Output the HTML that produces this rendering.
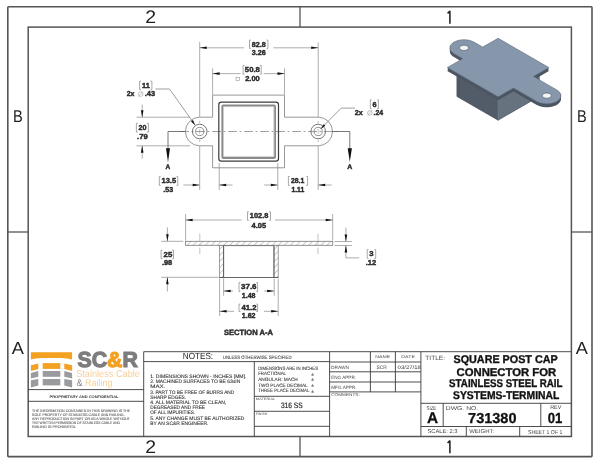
<!DOCTYPE html>
<html><head><meta charset="utf-8"><title>Square Post Cap Connector - Drawing 731380</title><style>
html,body{margin:0;padding:0;background:#fff;}
svg{display:block;will-change:transform;}
text{font-family:"Liberation Sans",sans-serif;text-rendering:geometricPrecision;}
</style></head><body>
<svg width="600" height="464" viewBox="0 0 600 464">
<defs><pattern id="hatch" width="4.3" height="4.3" patternUnits="userSpaceOnUse" patternTransform="rotate(45)"><rect width="4.3" height="4.3" fill="#fff"/><line x1="0" y1="0" x2="0" y2="4.3" stroke="#9a9a9a" stroke-width="1.0"/></pattern></defs>
<rect width="600" height="464" fill="#fff"/>
<rect x="7.8" y="6.8" width="584.2" height="449.8" fill="none" stroke="#555" stroke-width="1.6" rx="0.8"/>
<rect x="28.2" y="27.1" width="543.2" height="409.4" fill="none" stroke="#555" stroke-width="1.5"/>
<line x1="300.00" y1="6.80" x2="300.00" y2="27.10" stroke="#555" stroke-width="1.3" />
<line x1="300.00" y1="436.50" x2="300.00" y2="456.60" stroke="#555" stroke-width="1.3" />
<line x1="7.80" y1="232.00" x2="28.20" y2="232.00" stroke="#555" stroke-width="1.3" />
<line x1="571.40" y1="232.00" x2="592.00" y2="232.00" stroke="#555" stroke-width="1.3" />
<text x="145.31" y="22.51" font-size="18.20" fill="#222" textLength="10.82" lengthAdjust="spacingAndGlyphs" >2</text>
<text x="145.15" y="453.22" font-size="18.20" fill="#222" textLength="10.83" lengthAdjust="spacingAndGlyphs" >2</text>
<path d="M449.9,10.8 V23.7 M449.9,11.0 L447.6,13.4" fill="none" stroke="#222" stroke-width="1.55"/>
<path d="M449.9,440.4 V453.3 M449.9,440.6 L447.6,443.0" fill="none" stroke="#222" stroke-width="1.55"/>
<text x="13.08" y="121.70" font-size="17.10" fill="#222" textLength="9.75" lengthAdjust="spacingAndGlyphs" >B</text>
<text x="11.85" y="354.40" font-size="17.30" fill="#222" textLength="12.14" lengthAdjust="spacingAndGlyphs" >A</text>
<text x="577.02" y="121.70" font-size="17.10" fill="#222" textLength="9.71" lengthAdjust="spacingAndGlyphs" >B</text>
<text x="575.83" y="354.41" font-size="17.30" fill="#222" textLength="12.10" lengthAdjust="spacingAndGlyphs" >A</text>
<line x1="143.70" y1="351.70" x2="571.40" y2="351.70" stroke="#3a3a3a" stroke-width="0.9" />
<line x1="143.70" y1="351.70" x2="143.70" y2="436.50" stroke="#3a3a3a" stroke-width="0.9" />
<line x1="28.20" y1="389.60" x2="143.70" y2="389.60" stroke="#3a3a3a" stroke-width="0.9" />
<line x1="28.20" y1="401.30" x2="143.70" y2="401.30" stroke="#3a3a3a" stroke-width="0.9" />
<line x1="143.70" y1="361.60" x2="329.60" y2="361.60" stroke="#3a3a3a" stroke-width="0.9" />
<line x1="254.30" y1="361.60" x2="254.30" y2="436.50" stroke="#3a3a3a" stroke-width="0.9" />
<line x1="254.30" y1="396.30" x2="329.60" y2="396.30" stroke="#3a3a3a" stroke-width="0.9" />
<line x1="254.30" y1="411.30" x2="329.60" y2="411.30" stroke="#3a3a3a" stroke-width="0.9" />
<line x1="254.30" y1="426.30" x2="329.60" y2="426.30" stroke="#3a3a3a" stroke-width="0.9" />
<line x1="329.60" y1="351.70" x2="329.60" y2="436.50" stroke="#3a3a3a" stroke-width="0.9" />
<line x1="329.60" y1="362.00" x2="420.90" y2="362.00" stroke="#3a3a3a" stroke-width="0.9" />
<line x1="329.60" y1="371.80" x2="420.90" y2="371.80" stroke="#3a3a3a" stroke-width="0.9" />
<line x1="329.60" y1="382.00" x2="420.90" y2="382.00" stroke="#3a3a3a" stroke-width="0.9" />
<line x1="329.60" y1="391.90" x2="420.90" y2="391.90" stroke="#3a3a3a" stroke-width="0.9" />
<line x1="370.40" y1="351.70" x2="370.40" y2="391.90" stroke="#3a3a3a" stroke-width="0.9" />
<line x1="395.40" y1="351.70" x2="395.40" y2="391.90" stroke="#3a3a3a" stroke-width="0.9" />
<line x1="420.90" y1="351.70" x2="420.90" y2="436.50" stroke="#3a3a3a" stroke-width="0.9" />
<line x1="420.90" y1="403.30" x2="571.40" y2="403.30" stroke="#3a3a3a" stroke-width="0.9" />
<line x1="420.90" y1="426.50" x2="571.40" y2="426.50" stroke="#3a3a3a" stroke-width="0.9" />
<line x1="443.20" y1="403.30" x2="443.20" y2="426.50" stroke="#3a3a3a" stroke-width="0.9" />
<line x1="540.80" y1="403.30" x2="540.80" y2="426.50" stroke="#3a3a3a" stroke-width="0.9" />
<line x1="466.30" y1="426.50" x2="466.30" y2="436.50" stroke="#3a3a3a" stroke-width="0.9" />
<line x1="519.70" y1="426.50" x2="519.70" y2="436.50" stroke="#3a3a3a" stroke-width="0.9" />
<text x="182.74" y="359.33" font-size="8.91" fill="#222" textLength="30.40" lengthAdjust="spacingAndGlyphs" >NOTES:</text>
<text x="222.80" y="358.70" font-size="4.80" fill="#4a4a4a" stroke="#4a4a4a" stroke-width="0.1" textLength="68.80" lengthAdjust="spacingAndGlyphs" >UNLESS OTHERWISE SPECIFIED</text>
<text x="150.24" y="377.95" font-size="5.00" fill="#3a3a3a" stroke="#3a3a3a" stroke-width="0.12" textLength="96.15" lengthAdjust="spacingAndGlyphs" >1. DIMENSIONS SHOWN - INCHES [MM].</text>
<text x="150.24" y="383.15" font-size="5.00" fill="#3a3a3a" stroke="#3a3a3a" stroke-width="0.12" textLength="90.05" lengthAdjust="spacingAndGlyphs" >2. MACHINED SURFACES TO BE 63uIN</text>
<text x="150.24" y="388.35" font-size="5.00" fill="#3a3a3a" stroke="#3a3a3a" stroke-width="0.12" textLength="15.23" lengthAdjust="spacingAndGlyphs" >MAX.</text>
<text x="150.24" y="393.55" font-size="5.00" fill="#3a3a3a" stroke="#3a3a3a" stroke-width="0.12" textLength="84.00" lengthAdjust="spacingAndGlyphs" >3. PART TO BE FREE OF BURRS AND</text>
<text x="150.24" y="398.75" font-size="5.00" fill="#3a3a3a" stroke="#3a3a3a" stroke-width="0.12" textLength="35.89" lengthAdjust="spacingAndGlyphs" >SHARP EDGES.</text>
<text x="150.24" y="403.95" font-size="5.00" fill="#3a3a3a" stroke="#3a3a3a" stroke-width="0.12" textLength="76.08" lengthAdjust="spacingAndGlyphs" >4. ALL MATERIAL TO BE CLEAN,</text>
<text x="150.24" y="409.15" font-size="5.00" fill="#3a3a3a" stroke="#3a3a3a" stroke-width="0.12" textLength="54.79" lengthAdjust="spacingAndGlyphs" >DEGREASED AND FREE</text>
<text x="150.24" y="414.35" font-size="5.00" fill="#3a3a3a" stroke="#3a3a3a" stroke-width="0.12" textLength="45.01" lengthAdjust="spacingAndGlyphs" >OF ALL IMPURITIES.</text>
<text x="150.24" y="419.55" font-size="5.00" fill="#3a3a3a" stroke="#3a3a3a" stroke-width="0.12" textLength="94.04" lengthAdjust="spacingAndGlyphs" >5. ANY CHANGE MUST BE AUTHORIZED</text>
<text x="150.24" y="424.75" font-size="5.00" fill="#3a3a3a" stroke="#3a3a3a" stroke-width="0.12" textLength="58.22" lengthAdjust="spacingAndGlyphs" >BY AN SC&amp;R ENGINEER.</text>
<text x="258.17" y="369.80" font-size="4.80" fill="#4a4a4a" stroke="#4a4a4a" stroke-width="0.12" textLength="59.84" lengthAdjust="spacingAndGlyphs" >DIMENSIONS ARE IN INCHES</text>
<text x="258.17" y="375.30" font-size="4.80" fill="#4a4a4a" stroke="#4a4a4a" stroke-width="0.12" textLength="27.87" lengthAdjust="spacingAndGlyphs" >FRACTIONAL</text>
<text x="258.17" y="380.70" font-size="4.80" fill="#4a4a4a" stroke="#4a4a4a" stroke-width="0.12" textLength="39.62" lengthAdjust="spacingAndGlyphs" >ANGULAR: MACH</text>
<text x="258.17" y="386.70" font-size="4.80" fill="#4a4a4a" stroke="#4a4a4a" stroke-width="0.12" textLength="49.54" lengthAdjust="spacingAndGlyphs" >TWO PLACE DECIMAL</text>
<text x="258.17" y="392.20" font-size="4.80" fill="#4a4a4a" stroke="#4a4a4a" stroke-width="0.12" textLength="51.26" lengthAdjust="spacingAndGlyphs" >THREE PLACE DECIMAL</text>
<text x="312.6" y="375.6" font-size="5" fill="#4a4a4a" stroke="#4a4a4a" stroke-width="0.1" text-anchor="middle">±</text>
<text x="312.6" y="381.0" font-size="5" fill="#4a4a4a" stroke="#4a4a4a" stroke-width="0.1" text-anchor="middle">±</text>
<text x="312.6" y="387.0" font-size="5" fill="#4a4a4a" stroke="#4a4a4a" stroke-width="0.1" text-anchor="middle">±</text>
<text x="312.6" y="392.5" font-size="5" fill="#4a4a4a" stroke="#4a4a4a" stroke-width="0.1" text-anchor="middle">±</text>
<text x="255.74" y="399.74" font-size="3.30" fill="#4a4a4a" textLength="19.51" lengthAdjust="spacingAndGlyphs" >MATERIAL</text>
<text x="280.92" y="407.99" font-size="7.88" fill="#2a2a2a" stroke="#2a2a2a" stroke-width="0.2" textLength="21.79" lengthAdjust="spacingAndGlyphs" >316 SS</text>
<text x="255.68" y="414.98" font-size="3.30" fill="#4a4a4a" textLength="11.67" lengthAdjust="spacingAndGlyphs" >FINISH</text>
<text x="375.32" y="358.35" font-size="4.20" fill="#4a4a4a" textLength="14.88" lengthAdjust="spacingAndGlyphs" >NAME</text>
<text x="401.29" y="358.26" font-size="4.20" fill="#4a4a4a" textLength="13.77" lengthAdjust="spacingAndGlyphs" >DATE</text>
<text x="331.04" y="368.90" font-size="4.60" fill="#4a4a4a" textLength="18.01" lengthAdjust="spacingAndGlyphs" >DRAWN</text>
<text x="376.51" y="368.86" font-size="5.15" fill="#3a3a3a" textLength="10.36" lengthAdjust="spacingAndGlyphs" >SCR</text>
<text x="397.63" y="368.75" font-size="5.14" fill="#3a3a3a" textLength="23.28" lengthAdjust="spacingAndGlyphs" >03/27/18</text>
<text x="331.16" y="379.06" font-size="4.60" fill="#4a4a4a" textLength="24.92" lengthAdjust="spacingAndGlyphs" >ENG APPR.</text>
<text x="331.24" y="389.19" font-size="4.60" fill="#4a4a4a" textLength="25.38" lengthAdjust="spacingAndGlyphs" >MFG APPR.</text>
<text x="331.19" y="396.25" font-size="4.20" fill="#4a4a4a" textLength="28.55" lengthAdjust="spacingAndGlyphs" >COMMENTS:</text>
<text x="425.33" y="359.77" font-size="6.12" fill="#4a4a4a" textLength="19.67" lengthAdjust="spacingAndGlyphs" >TITLE:</text>
<text x="453.52" y="363.29" font-size="11.20" font-weight="bold" fill="#111" stroke="#111" stroke-width="0.35" textLength="104.14" lengthAdjust="spacingAndGlyphs" >SQUARE POST CAP</text>
<text x="456.51" y="375.53" font-size="11.20" font-weight="bold" fill="#111" stroke="#111" stroke-width="0.35" textLength="99.75" lengthAdjust="spacingAndGlyphs" >CONNECTOR FOR</text>
<text x="449.11" y="387.40" font-size="11.20" font-weight="bold" fill="#111" stroke="#111" stroke-width="0.35" textLength="113.35" lengthAdjust="spacingAndGlyphs" >STAINLESS STEEL RAIL</text>
<text x="453.07" y="399.47" font-size="11.20" font-weight="bold" fill="#111" stroke="#111" stroke-width="0.35" textLength="106.25" lengthAdjust="spacingAndGlyphs" >SYSTEMS-TERMINAL</text>
<text x="426.55" y="409.72" font-size="5.60" fill="#4a4a4a" textLength="9.74" lengthAdjust="spacingAndGlyphs" >SIZE</text>
<text x="426.94" y="423.30" font-size="15.57" font-weight="bold" fill="#111" stroke="#111" stroke-width="0.3" textLength="11.13" lengthAdjust="spacingAndGlyphs" >A</text>
<text x="445.87" y="409.70" font-size="5.60" fill="#4a4a4a" textLength="32.30" lengthAdjust="spacingAndGlyphs" >DWG. NO.</text>
<text x="468.10" y="422.83" font-size="14.43" font-weight="bold" fill="#111" stroke="#111" stroke-width="0.3" textLength="48.38" lengthAdjust="spacingAndGlyphs" >731380</text>
<text x="550.17" y="409.29" font-size="5.60" fill="#4a4a4a" textLength="11.18" lengthAdjust="spacingAndGlyphs" >REV</text>
<text x="547.64" y="422.97" font-size="14.64" font-weight="bold" fill="#111" stroke="#111" stroke-width="0.3" textLength="14.61" lengthAdjust="spacingAndGlyphs" >01</text>
<text x="427.41" y="433.26" font-size="5.60" fill="#4a4a4a" textLength="30.16" lengthAdjust="spacingAndGlyphs" >SCALE: 2:3</text>
<text x="469.16" y="433.26" font-size="5.60" fill="#4a4a4a" textLength="25.01" lengthAdjust="spacingAndGlyphs" >WEIGHT:</text>
<text x="528.00" y="433.70" font-size="5.60" fill="#4a4a4a" textLength="34.35" lengthAdjust="spacingAndGlyphs" >SHEET 1 OF 1</text>
<path d="M30.9,352.3 H72.1 V359.6 Q68,357.9 61,357.9 H42 Q35,357.9 30.9,359.6 Z" fill="#f4a021"/>
<rect x="42.7" y="363.1" width="17.6" height="5.8" fill="#f4a021"/>
<rect x="42.7" y="371" width="17.6" height="5.8" fill="#9a9b9f"/>
<rect x="42.7" y="379" width="17.6" height="6.4" fill="#9a9b9f"/>
<polygon points="30.9,365.3 38.3,363.6 38.3,368.9 30.9,371.1" fill="#f4a021"/>
<polygon points="30.9,372.9 38.3,370.9 38.3,376.8 30.9,378.6" fill="#9a9b9f"/>
<polygon points="30.9,380.3 38.3,379 38.3,385.5 30.9,387.4" fill="#9a9b9f"/>
<polygon points="64.3,363.6 72.1,365.3 72.1,371.1 64.3,368.9" fill="#f4a021"/>
<polygon points="64.3,370.9 72.1,372.9 72.1,378.6 64.3,376.8" fill="#9a9b9f"/>
<polygon points="64.3,379 72.1,380.3 72.1,387.4 64.3,385.5" fill="#9a9b9f"/>
<text x="77.48" y="366.77" font-size="21.69" font-weight="bold" fill="#7d7d7d" stroke="#7d7d7d" stroke-width="1.2" textLength="60.35" lengthAdjust="spacingAndGlyphs" >SC<tspan fill="#f4a021" stroke="#f4a021">&amp;</tspan>R</text>
<text x="76.20" y="377.26" font-size="9.90" fill="#f8cf98" textLength="63.70" lengthAdjust="spacingAndGlyphs" >Stainless Cable</text>
<text x="76.54" y="386.49" font-size="9.60" fill="#f8cf98" textLength="35.86" lengthAdjust="spacingAndGlyphs" ><tspan fill="#7d7d7d">&amp;</tspan> Railing</text>
<text x="49.54" y="397.95" font-size="3.70" font-weight="bold" fill="#333" textLength="69.03" lengthAdjust="spacingAndGlyphs" >PROPRIETARY AND CONFIDENTIAL</text>
<text x="32.09" y="412.22" font-size="3.70" fill="#555" stroke="#555" stroke-width="0.08" textLength="98.01" lengthAdjust="spacingAndGlyphs" >THE INFORMATION CONTAINED IN THIS DRAWING IS THE</text>
<text x="32.09" y="416.12" font-size="3.70" fill="#555" stroke="#555" stroke-width="0.08" textLength="92.33" lengthAdjust="spacingAndGlyphs" >SOLE PROPERTY OF STAINLESS CABLE AND RAILING.</text>
<text x="32.09" y="420.02" font-size="3.70" fill="#555" stroke="#555" stroke-width="0.08" textLength="97.95" lengthAdjust="spacingAndGlyphs" >ANY REPRODUCTION IN PART OR AS A WHOLE WITHOUT</text>
<text x="32.09" y="423.92" font-size="3.70" fill="#555" stroke="#555" stroke-width="0.08" textLength="87.83" lengthAdjust="spacingAndGlyphs" >THE WRITTEN PERMISSION OF STAINLESS CABLE AND</text>
<text x="32.09" y="427.82" font-size="3.70" fill="#555" stroke="#555" stroke-width="0.08" textLength="44.13" lengthAdjust="spacingAndGlyphs" >RAILING IS PROHIBITED.</text>
<line x1="180" y1="131.5" x2="338" y2="131.5" stroke="#777" stroke-width="0.7" stroke-dasharray="9,2.5,2,2.5"/>
<path d="M212.6,117.2 V95.1 H284.5 V117.2 H318.2 A14.3,14.3 0 0 1 318.2,145.8 H284.5 V167.8 H212.6 V145.8 H199.7 A14.3,14.3 0 0 1 199.7,117.2 Z" fill="none" stroke="#8c8c8c" stroke-width="0.9"/>
<circle cx="199.7" cy="131.5" r="7.3" fill="none" stroke="#666" stroke-width="0.9"/>
<circle cx="199.7" cy="131.5" r="4.1" fill="none" stroke="#777" stroke-width="0.8"/>
<line x1="199.70" y1="129.00" x2="199.70" y2="134.00" stroke="#888" stroke-width="0.5" />
<line x1="199.70" y1="121.00" x2="199.70" y2="122.90" stroke="#888" stroke-width="0.6" />
<line x1="199.70" y1="140.10" x2="199.70" y2="142.00" stroke="#888" stroke-width="0.6" />
<circle cx="318.2" cy="131.5" r="7.3" fill="none" stroke="#666" stroke-width="0.9"/>
<circle cx="318.2" cy="131.5" r="4.1" fill="none" stroke="#777" stroke-width="0.8"/>
<line x1="318.20" y1="129.00" x2="318.20" y2="134.00" stroke="#888" stroke-width="0.5" />
<line x1="318.20" y1="121.00" x2="318.20" y2="122.90" stroke="#888" stroke-width="0.6" />
<line x1="318.20" y1="140.10" x2="318.20" y2="142.00" stroke="#888" stroke-width="0.6" />
<rect x="218.8" y="102.2" width="59.7" height="59" rx="2.6" fill="none" stroke="#3d3d3d" stroke-width="1.2"/>
<rect x="222.3" y="105.5" width="52.8" height="52.5" rx="1" fill="none" stroke="#8a8a8a" stroke-width="1.8"/>
<rect x="223.6" y="106.8" width="50.2" height="49.9" fill="none" stroke="#bbb" stroke-width="0.6"/>
<line x1="199.70" y1="41.70" x2="199.70" y2="117.00" stroke="#8a8a8a" stroke-width="0.7" />
<line x1="199.70" y1="146.00" x2="199.70" y2="190.00" stroke="#8a8a8a" stroke-width="0.7" />
<line x1="318.20" y1="42.50" x2="318.20" y2="117.00" stroke="#8a8a8a" stroke-width="0.7" />
<line x1="318.20" y1="146.00" x2="318.20" y2="190.00" stroke="#8a8a8a" stroke-width="0.7" />
<line x1="212.60" y1="68.30" x2="212.60" y2="94.50" stroke="#8a8a8a" stroke-width="0.7" />
<line x1="284.50" y1="68.30" x2="284.50" y2="94.50" stroke="#8a8a8a" stroke-width="0.7" />
<line x1="219.20" y1="163.00" x2="219.20" y2="190.00" stroke="#8a8a8a" stroke-width="0.7" />
<line x1="277.80" y1="163.00" x2="277.80" y2="190.00" stroke="#8a8a8a" stroke-width="0.7" />
<line x1="199.70" y1="47.80" x2="244.00" y2="47.80" stroke="#8a8a8a" stroke-width="0.7" />
<line x1="273.30" y1="47.80" x2="318.20" y2="47.80" stroke="#8a8a8a" stroke-width="0.7" />
<polygon points="199.70,47.80 206.70,46.50 206.70,49.10" fill="#111"/>
<polygon points="318.20,47.80 311.20,49.10 311.20,46.50" fill="#111"/>
<line x1="212.60" y1="73.60" x2="240.50" y2="73.60" stroke="#8a8a8a" stroke-width="0.7" />
<line x1="263.70" y1="73.60" x2="284.50" y2="73.60" stroke="#8a8a8a" stroke-width="0.7" />
<polygon points="212.60,73.60 219.60,72.30 219.60,74.90" fill="#111"/>
<polygon points="284.50,73.60 277.50,74.90 277.50,72.30" fill="#111"/>
<line x1="183.30" y1="185.00" x2="199.70" y2="185.00" stroke="#8a8a8a" stroke-width="0.7" />
<polygon points="199.70,185.00 192.70,186.30 192.70,183.70" fill="#111"/>
<line x1="219.20" y1="185.00" x2="232.50" y2="185.00" stroke="#8a8a8a" stroke-width="0.7" />
<polygon points="219.20,185.00 226.20,183.70 226.20,186.30" fill="#111"/>
<line x1="264.20" y1="185.00" x2="277.80" y2="185.00" stroke="#8a8a8a" stroke-width="0.7" />
<polygon points="277.80,185.00 270.80,186.30 270.80,183.70" fill="#111"/>
<line x1="318.20" y1="185.00" x2="331.70" y2="185.00" stroke="#8a8a8a" stroke-width="0.7" />
<polygon points="318.20,185.00 325.20,183.70 325.20,186.30" fill="#111"/>
<line x1="136.50" y1="117.20" x2="190.00" y2="117.20" stroke="#8a8a8a" stroke-width="0.7" />
<line x1="136.50" y1="145.80" x2="190.00" y2="145.80" stroke="#8a8a8a" stroke-width="0.7" />
<line x1="142.20" y1="104.50" x2="142.20" y2="117.20" stroke="#8a8a8a" stroke-width="0.7" />
<polygon points="142.20,117.20 140.90,110.20 143.50,110.20" fill="#111"/>
<line x1="142.20" y1="145.80" x2="142.20" y2="158.70" stroke="#8a8a8a" stroke-width="0.7" />
<polygon points="142.20,145.80 143.50,152.80 140.90,152.80" fill="#111"/>
<line x1="155.40" y1="89.00" x2="169.50" y2="89.00" stroke="#777" stroke-width="0.7" />
<line x1="169.50" y1="89.00" x2="195.20" y2="125.20" stroke="#777" stroke-width="0.7" />
<polygon points="195.20,125.20 191.04,121.41 192.99,120.02" fill="#111"/>
<line x1="355.00" y1="108.10" x2="341.20" y2="108.10" stroke="#777" stroke-width="0.7" />
<line x1="341.20" y1="108.10" x2="320.60" y2="128.90" stroke="#777" stroke-width="0.7" />
<polygon points="320.60,128.90 323.62,124.15 325.32,125.84" fill="#111"/>
<line x1="168.00" y1="131.50" x2="185.00" y2="131.50" stroke="#555" stroke-width="0.8" />
<line x1="168.00" y1="131.50" x2="168.00" y2="149.00" stroke="#555" stroke-width="0.8" />
<polygon points="168.00,162.20 166.00,148.20 170.00,148.20" fill="#111"/>
<line x1="332.00" y1="131.50" x2="349.80" y2="131.50" stroke="#555" stroke-width="0.8" />
<line x1="349.80" y1="131.50" x2="349.80" y2="149.00" stroke="#555" stroke-width="0.8" />
<polygon points="349.80,161.80 347.70,148.20 351.90,148.20" fill="#111"/>
<text x="165.39" y="169.08" font-size="6.60" font-weight="bold" fill="#2a2a2a" stroke="#2a2a2a" stroke-width="0.42" textLength="4.69" lengthAdjust="spacingAndGlyphs" >A</text>
<text x="347.26" y="168.60" font-size="6.60" font-weight="bold" fill="#2a2a2a" stroke="#2a2a2a" stroke-width="0.42" textLength="5.01" lengthAdjust="spacingAndGlyphs" >A</text>
<path d="M250.9,40.1 H249.5 V48.4 H250.9 M266.5,40.1 H267.9 V48.4 H266.5" fill="none" stroke="#7a7a7a" stroke-width="0.65"/>
<text x="251.84" y="46.67" font-size="7.20" font-weight="bold" fill="#2a2a2a" stroke="#2a2a2a" stroke-width="0.42" textLength="13.94" lengthAdjust="spacingAndGlyphs" >82.8</text>
<text x="251.73" y="54.67" font-size="7.20" font-weight="bold" fill="#2a2a2a" stroke="#2a2a2a" stroke-width="0.42" textLength="13.99" lengthAdjust="spacingAndGlyphs" >3.26</text>
<path d="M244.5,65.4 H243.1 V74.2 H244.5 M259.8,65.4 H261.2 V74.2 H259.8" fill="none" stroke="#7a7a7a" stroke-width="0.65"/>
<text x="244.84" y="72.31" font-size="7.20" font-weight="bold" fill="#2a2a2a" stroke="#2a2a2a" stroke-width="0.42" textLength="15.06" lengthAdjust="spacingAndGlyphs" >50.8</text>
<text x="245.17" y="80.65" font-size="7.20" font-weight="bold" fill="#2a2a2a" stroke="#2a2a2a" stroke-width="0.42" textLength="14.61" lengthAdjust="spacingAndGlyphs" >2.00</text>
<rect x="236" y="77.3" width="3.3" height="3.3" fill="none" stroke="#888" stroke-width="0.55"/>
<path d="M141.0,81.1 H139.6 V89.6 H141.0 M150.5,81.1 H151.9 V89.6 H150.5" fill="none" stroke="#7a7a7a" stroke-width="0.65"/>
<text x="142.05" y="87.73" font-size="7.20" font-weight="bold" fill="#2a2a2a" stroke="#2a2a2a" stroke-width="0.42" textLength="7.75" lengthAdjust="spacingAndGlyphs" >11</text>
<text x="126.67" y="95.83" font-size="7.20" font-weight="bold" fill="#2a2a2a" stroke="#2a2a2a" stroke-width="0.42" textLength="7.78" lengthAdjust="spacingAndGlyphs" >2x</text>
<text x="144.77" y="96.24" font-size="7.20" font-weight="bold" fill="#2a2a2a" stroke="#2a2a2a" stroke-width="0.42" textLength="10.29" lengthAdjust="spacingAndGlyphs" >.43</text>
<circle cx="140.7" cy="94.1" r="2.3" fill="none" stroke="#999" stroke-width="0.6"/><line x1="138.6" y1="96.7" x2="142.8" y2="91.5" stroke="#999" stroke-width="0.5"/>
<path d="M137.8,123.3 H136.4 V132.1 H137.8 M147.0,123.3 H148.4 V132.1 H147.0" fill="none" stroke="#7a7a7a" stroke-width="0.65"/>
<text x="138.47" y="129.65" font-size="7.20" font-weight="bold" fill="#2a2a2a" stroke="#2a2a2a" stroke-width="0.42" textLength="7.94" lengthAdjust="spacingAndGlyphs" >20</text>
<text x="137.04" y="138.74" font-size="7.20" font-weight="bold" fill="#2a2a2a" stroke="#2a2a2a" stroke-width="0.42" textLength="10.60" lengthAdjust="spacingAndGlyphs" >.79</text>
<path d="M371.7,99.9 H370.3 V108.6 H371.7 M377.0,99.9 H378.4 V108.6 H377.0" fill="none" stroke="#7a7a7a" stroke-width="0.65"/>
<text x="372.48" y="106.66" font-size="7.20" font-weight="bold" fill="#2a2a2a" stroke="#2a2a2a" stroke-width="0.42" textLength="4.07" lengthAdjust="spacingAndGlyphs" >6</text>
<text x="354.83" y="115.29" font-size="7.20" font-weight="bold" fill="#2a2a2a" stroke="#2a2a2a" stroke-width="0.42" textLength="7.93" lengthAdjust="spacingAndGlyphs" >2x</text>
<text x="373.51" y="115.40" font-size="7.20" font-weight="bold" fill="#2a2a2a" stroke="#2a2a2a" stroke-width="0.42" textLength="9.61" lengthAdjust="spacingAndGlyphs" >.24</text>
<circle cx="369.8" cy="112.9" r="2.3" fill="none" stroke="#999" stroke-width="0.6"/><line x1="367.7" y1="115.5" x2="371.9" y2="110.3" stroke="#999" stroke-width="0.5"/>
<path d="M160.70000000000002,176.6 H159.3 V185.4 H160.70000000000002 M176.4,176.6 H177.8 V185.4 H176.4" fill="none" stroke="#7a7a7a" stroke-width="0.65"/>
<text x="161.47" y="183.10" font-size="7.20" font-weight="bold" fill="#2a2a2a" stroke="#2a2a2a" stroke-width="0.42" textLength="14.59" lengthAdjust="spacingAndGlyphs" >13.5</text>
<text x="163.20" y="191.71" font-size="7.20" font-weight="bold" fill="#2a2a2a" stroke="#2a2a2a" stroke-width="0.42" textLength="9.91" lengthAdjust="spacingAndGlyphs" >.53</text>
<path d="M289.79999999999995,176.4 H288.4 V185.4 H289.79999999999995 M306.20000000000005,176.4 H307.6 V185.4 H306.20000000000005" fill="none" stroke="#7a7a7a" stroke-width="0.65"/>
<text x="290.92" y="183.02" font-size="7.20" font-weight="bold" fill="#2a2a2a" stroke="#2a2a2a" stroke-width="0.42" textLength="13.36" lengthAdjust="spacingAndGlyphs" >28.1</text>
<text x="291.46" y="191.80" font-size="7.20" font-weight="bold" fill="#2a2a2a" stroke="#2a2a2a" stroke-width="0.42" textLength="12.86" lengthAdjust="spacingAndGlyphs" >1.11</text>
<rect x="185.5" y="241.3" width="147.2" height="4" fill="url(#hatch)" stroke="#777" stroke-width="0.8"/>
<rect x="219.4" y="245.4" width="4.4" height="32.1" fill="url(#hatch)" stroke="#777" stroke-width="0.7"/>
<rect x="273.8" y="245.4" width="4.4" height="32.1" fill="url(#hatch)" stroke="#777" stroke-width="0.7"/>
<line x1="223.50" y1="245.60" x2="223.50" y2="277.50" stroke="#666" stroke-width="1.0" />
<line x1="274.10" y1="245.60" x2="274.10" y2="277.50" stroke="#666" stroke-width="1.0" />
<line x1="219.40" y1="277.50" x2="278.20" y2="277.50" stroke="#555" stroke-width="0.9" />
<line x1="223.90" y1="245.60" x2="273.60" y2="245.60" stroke="#777" stroke-width="0.9" />
<line x1="199.80" y1="233.50" x2="199.80" y2="254.00" stroke="#999" stroke-width="0.6" stroke-dasharray="8,2,2,2"/>
<line x1="318.00" y1="233.50" x2="318.00" y2="254.00" stroke="#999" stroke-width="0.6" stroke-dasharray="8,2,2,2"/>
<line x1="185.60" y1="214.00" x2="185.60" y2="240.50" stroke="#8a8a8a" stroke-width="0.7" />
<line x1="332.70" y1="214.00" x2="332.70" y2="240.50" stroke="#8a8a8a" stroke-width="0.7" />
<line x1="185.60" y1="220.00" x2="241.70" y2="220.00" stroke="#8a8a8a" stroke-width="0.7" />
<line x1="275.00" y1="220.00" x2="332.70" y2="220.00" stroke="#8a8a8a" stroke-width="0.7" />
<polygon points="185.60,220.00 192.60,218.70 192.60,221.30" fill="#111"/>
<polygon points="332.70,220.00 325.70,221.30 325.70,218.70" fill="#111"/>
<path d="M248.9,211.75 H247.5 V220.25 H248.9 M269.1,211.75 H270.5 V220.25 H269.1" fill="none" stroke="#7a7a7a" stroke-width="0.65"/>
<text x="249.81" y="218.10" font-size="7.20" font-weight="bold" fill="#2a2a2a" stroke="#2a2a2a" stroke-width="0.42" textLength="18.55" lengthAdjust="spacingAndGlyphs" >102.8</text>
<text x="251.63" y="227.50" font-size="7.20" font-weight="bold" fill="#2a2a2a" stroke="#2a2a2a" stroke-width="0.42" textLength="14.54" lengthAdjust="spacingAndGlyphs" >4.05</text>
<line x1="161.30" y1="241.30" x2="183.20" y2="241.30" stroke="#8a8a8a" stroke-width="0.7" />
<line x1="161.30" y1="277.30" x2="218.50" y2="277.30" stroke="#8a8a8a" stroke-width="0.7" />
<line x1="167.40" y1="227.30" x2="167.40" y2="241.30" stroke="#8a8a8a" stroke-width="0.7" />
<polygon points="167.40,241.30 166.10,234.30 168.70,234.30" fill="#111"/>
<line x1="167.40" y1="277.30" x2="167.40" y2="291.50" stroke="#8a8a8a" stroke-width="0.7" />
<polygon points="167.40,277.30 168.70,284.30 166.10,284.30" fill="#111"/>
<path d="M162.5,250.1 H161.1 V258.7 H162.5 M172.1,250.1 H173.5 V258.7 H172.1" fill="none" stroke="#7a7a7a" stroke-width="0.65"/>
<text x="163.55" y="256.93" font-size="7.20" font-weight="bold" fill="#2a2a2a" stroke="#2a2a2a" stroke-width="0.42" textLength="8.71" lengthAdjust="spacingAndGlyphs" >25</text>
<text x="161.97" y="265.36" font-size="7.20" font-weight="bold" fill="#2a2a2a" stroke="#2a2a2a" stroke-width="0.42" textLength="10.26" lengthAdjust="spacingAndGlyphs" >.98</text>
<line x1="334.50" y1="241.50" x2="351.80" y2="241.50" stroke="#8a8a8a" stroke-width="0.7" />
<line x1="334.50" y1="245.50" x2="351.80" y2="245.50" stroke="#8a8a8a" stroke-width="0.7" />
<line x1="345.90" y1="227.70" x2="345.90" y2="241.50" stroke="#8a8a8a" stroke-width="0.7" />
<polygon points="345.90,241.50 344.60,234.50 347.20,234.50" fill="#111"/>
<line x1="345.90" y1="245.50" x2="345.90" y2="257.90" stroke="#8a8a8a" stroke-width="0.7" />
<line x1="345.90" y1="257.90" x2="359.30" y2="257.90" stroke="#8a8a8a" stroke-width="0.7" />
<polygon points="345.90,245.50 347.20,252.50 344.60,252.50" fill="#111"/>
<path d="M368.59999999999997,249.6 H367.2 V258.4 H368.59999999999997 M374.3,249.6 H375.7 V258.4 H374.3" fill="none" stroke="#7a7a7a" stroke-width="0.65"/>
<text x="369.15" y="255.92" font-size="7.20" font-weight="bold" fill="#2a2a2a" stroke="#2a2a2a" stroke-width="0.42" textLength="4.28" lengthAdjust="spacingAndGlyphs" >3</text>
<text x="365.66" y="265.25" font-size="7.20" font-weight="bold" fill="#2a2a2a" stroke="#2a2a2a" stroke-width="0.42" textLength="10.44" lengthAdjust="spacingAndGlyphs" >.12</text>
<line x1="223.60" y1="278.50" x2="223.60" y2="295.70" stroke="#8a8a8a" stroke-width="0.7" />
<line x1="274.20" y1="278.50" x2="274.20" y2="295.70" stroke="#8a8a8a" stroke-width="0.7" />
<line x1="219.60" y1="278.50" x2="219.60" y2="316.00" stroke="#8a8a8a" stroke-width="0.7" />
<line x1="278.20" y1="278.50" x2="278.20" y2="316.00" stroke="#8a8a8a" stroke-width="0.7" />
<line x1="223.60" y1="291.00" x2="233.00" y2="291.00" stroke="#8a8a8a" stroke-width="0.7" />
<line x1="264.00" y1="291.00" x2="274.20" y2="291.00" stroke="#8a8a8a" stroke-width="0.7" />
<polygon points="223.60,291.00 230.60,289.70 230.60,292.30" fill="#111"/>
<polygon points="274.20,291.00 267.20,292.30 267.20,289.70" fill="#111"/>
<line x1="219.60" y1="311.30" x2="234.00" y2="311.30" stroke="#8a8a8a" stroke-width="0.7" />
<line x1="264.00" y1="311.30" x2="278.20" y2="311.30" stroke="#8a8a8a" stroke-width="0.7" />
<polygon points="219.60,311.30 226.60,310.00 226.60,312.60" fill="#111"/>
<polygon points="278.20,311.30 271.20,312.60 271.20,310.00" fill="#111"/>
<path d="M240.4,282.6 H239 V291.6 H240.4 M256.20000000000005,282.6 H257.6 V291.6 H256.20000000000005" fill="none" stroke="#7a7a7a" stroke-width="0.65"/>
<text x="241.04" y="289.21" font-size="7.20" font-weight="bold" fill="#2a2a2a" stroke="#2a2a2a" stroke-width="0.42" textLength="15.49" lengthAdjust="spacingAndGlyphs" >37.6</text>
<text x="241.77" y="298.11" font-size="7.20" font-weight="bold" fill="#2a2a2a" stroke="#2a2a2a" stroke-width="0.42" textLength="13.71" lengthAdjust="spacingAndGlyphs" >1.48</text>
<path d="M240.4,304.1 H239 V311.5 H240.4 M256.20000000000005,304.1 H257.6 V311.5 H256.20000000000005" fill="none" stroke="#7a7a7a" stroke-width="0.65"/>
<text x="241.43" y="310.34" font-size="7.20" font-weight="bold" fill="#2a2a2a" stroke="#2a2a2a" stroke-width="0.42" textLength="15.08" lengthAdjust="spacingAndGlyphs" >41.2</text>
<text x="241.74" y="318.44" font-size="7.20" font-weight="bold" fill="#2a2a2a" stroke="#2a2a2a" stroke-width="0.42" textLength="13.81" lengthAdjust="spacingAndGlyphs" >1.62</text>
<text x="223.97" y="335.11" font-size="7.60" font-weight="bold" fill="#2a2a2a" stroke="#2a2a2a" stroke-width="0.42" textLength="48.90" lengthAdjust="spacingAndGlyphs" >SECTION A-A</text>
<polygon points="456.90,71.02 498.10,94.79 498.10,120.20 456.90,96.42" fill="#525c68" stroke="#3e4650" stroke-width="0.6"/>
<polygon points="498.10,94.79 539.30,71.02 539.30,96.42 498.10,120.20" fill="#67727f" stroke="#3e4650" stroke-width="0.6"/>
<line x1="498.10" y1="94.79" x2="498.10" y2="120.20" stroke="#7d8896" stroke-width="0.8" />
<polygon points="458.10,71.71 498.10,94.79 498.10,97.33 458.10,74.25" fill="#5d6773"/>
<line x1="459.10" y1="72.28" x2="459.10" y2="96.54" stroke="#48515c" stroke-width="0.7" />
<polygon points="447.30,71.02 498.10,100.33 513.50,91.44 536.80,104.88 536.80,104.88 538.69,105.80 540.82,106.51 543.14,107.00 545.57,107.24 548.03,107.24 550.46,107.00 552.78,106.51 554.91,105.80 556.80,104.88 558.38,103.80 559.62,102.56 560.46,101.23 560.89,99.83 560.89,98.40 560.46,97.00 559.62,95.67 558.38,94.43 556.80,93.34 556.80,93.34 533.50,79.90 548.90,71.02 498.10,41.70 482.70,50.59 474.00,45.57 474.00,45.57 472.11,44.66 469.98,43.94 467.66,43.46 465.23,43.21 462.77,43.21 460.34,43.46 458.02,43.94 455.89,44.66 454.00,45.57 452.42,46.66 451.18,47.89 450.34,49.23 449.91,50.63 449.91,52.05 450.34,53.45 451.18,54.79 452.42,56.02 454.00,57.11 454.00,57.11 462.70,62.13" fill="#4d5663"/>
<polygon points="447.30,70.15 498.10,99.46 513.50,90.57 536.80,104.02 536.80,104.02 538.69,104.93 540.82,105.64 543.14,106.13 545.57,106.38 548.03,106.38 550.46,106.13 552.78,105.64 554.91,104.93 556.80,104.02 558.38,102.93 559.62,101.70 560.46,100.36 560.89,98.96 560.89,97.54 560.46,96.14 559.62,94.80 558.38,93.57 556.80,92.48 556.80,92.48 533.50,79.03 548.90,70.15 498.10,40.84 482.70,49.72 474.00,44.70 474.00,44.70 472.11,43.79 469.98,43.08 467.66,42.59 465.23,42.34 462.77,42.34 460.34,42.59 458.02,43.08 455.89,43.79 454.00,44.70 452.42,45.79 451.18,47.02 450.34,48.36 449.91,49.76 449.91,51.18 450.34,52.59 451.18,53.92 452.42,55.15 454.00,56.24 454.00,56.24 462.70,61.26" fill="#4d5663"/>
<polygon points="447.30,69.28 498.10,98.59 513.50,89.71 536.80,103.15 536.80,103.15 538.69,104.07 540.82,104.78 543.14,105.26 545.57,105.51 548.03,105.51 550.46,105.26 552.78,104.78 554.91,104.07 556.80,103.15 558.38,102.06 559.62,100.83 560.46,99.49 560.89,98.09 560.89,96.67 560.46,95.27 559.62,93.93 558.38,92.70 556.80,91.61 556.80,91.61 533.50,78.17 548.90,69.28 498.10,39.97 482.70,48.86 474.00,43.84 474.00,43.84 472.11,42.92 469.98,42.21 467.66,41.72 465.23,41.48 462.77,41.48 460.34,41.72 458.02,42.21 455.89,42.92 454.00,43.84 452.42,44.93 451.18,46.16 450.34,47.49 449.91,48.90 449.91,50.32 450.34,51.72 451.18,53.06 452.42,54.29 454.00,55.38 454.00,55.38 462.70,60.40" fill="#4d5663"/>
<polygon points="447.30,68.42 498.10,97.73 513.50,88.84 536.80,102.29 536.80,102.29 538.69,103.20 540.82,103.91 543.14,104.40 545.57,104.65 548.03,104.65 550.46,104.40 552.78,103.91 554.91,103.20 556.80,102.29 558.38,101.20 559.62,99.96 560.46,98.63 560.89,97.23 560.89,95.80 560.46,94.40 559.62,93.07 558.38,91.84 556.80,90.75 556.80,90.75 533.50,77.30 548.90,68.42 498.10,39.10 482.70,47.99 474.00,42.97 474.00,42.97 472.11,42.06 469.98,41.35 467.66,40.86 465.23,40.61 462.77,40.61 460.34,40.86 458.02,41.35 455.89,42.06 454.00,42.97 452.42,44.06 451.18,45.29 450.34,46.63 449.91,48.03 449.91,49.45 450.34,50.85 451.18,52.19 452.42,53.42 454.00,54.51 454.00,54.51 462.70,59.53" fill="#4d5663"/>
<polygon points="447.30,67.55 498.10,96.86 513.50,87.98 536.80,101.42 536.80,101.42 538.69,102.33 540.82,103.05 543.14,103.53 545.57,103.78 548.03,103.78 550.46,103.53 552.78,103.05 554.91,102.33 556.80,101.42 558.38,100.33 559.62,99.10 560.46,97.76 560.89,96.36 560.89,94.94 560.46,93.54 559.62,92.20 558.38,90.97 556.80,89.88 556.80,89.88 533.50,76.44 548.90,67.55 498.10,38.24 482.70,47.12 474.00,42.10 474.00,42.10 472.11,41.19 469.98,40.48 467.66,39.99 465.23,39.75 462.77,39.75 460.34,39.99 458.02,40.48 455.89,41.19 454.00,42.10 452.42,43.19 451.18,44.43 450.34,45.76 449.91,47.16 449.91,48.59 450.34,49.99 451.18,51.32 452.42,52.55 454.00,53.64 454.00,53.64 462.70,58.66" fill="#8696ab" stroke="#5f6b7c" stroke-width="0.6"/>
<polygon points="467.20,49.72 467.71,49.37 468.10,48.98 468.37,48.55 468.51,48.10 468.51,47.65 468.37,47.20 468.10,46.77 467.71,46.38 467.20,46.03 466.60,45.74 465.91,45.51 465.17,45.35 464.39,45.27 463.61,45.27 462.83,45.35 462.09,45.51 461.40,45.74 460.80,46.03 460.29,46.38 459.90,46.77 459.63,47.20 459.49,47.65 459.49,48.10 459.63,48.55 459.90,48.98 460.29,49.37 460.80,49.72 461.40,50.01 462.09,50.24 462.83,50.40 463.61,50.48 464.39,50.48 465.17,50.40 465.91,50.24 466.60,50.01" fill="#f2f3f5" stroke="#4f5966" stroke-width="0.7"/>
<polygon points="550.00,97.50 550.51,97.15 550.90,96.75 551.17,96.33 551.31,95.88 551.31,95.42 551.17,94.97 550.90,94.55 550.51,94.15 550.00,93.80 549.40,93.51 548.71,93.28 547.97,93.13 547.19,93.05 546.41,93.05 545.63,93.13 544.89,93.28 544.20,93.51 543.60,93.80 543.09,94.15 542.70,94.55 542.43,94.97 542.29,95.42 542.29,95.88 542.43,96.33 542.70,96.75 543.09,97.15 543.60,97.50 544.20,97.79 544.89,98.02 545.63,98.17 546.41,98.25 547.19,98.25 547.97,98.17 548.71,98.02 549.40,97.79" fill="#f2f3f5" stroke="#4f5966" stroke-width="0.7"/>
</svg></body></html>
